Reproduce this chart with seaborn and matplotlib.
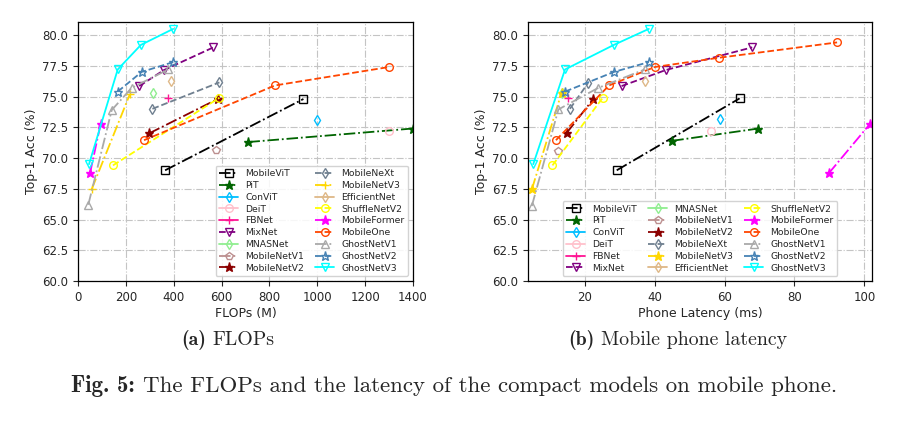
import matplotlib
matplotlib.use("Agg")
import matplotlib.pyplot as plt
import seaborn as sns

# ---------------- data ----------------
names = ["MobileViT", "PiT", "ConViT", "DeiT", "FBNet", "MixNet", "MNASNet",
         "MobileNetV1", "MobileNetV2", "MobileNeXt", "MobileNetV3", "EfficientNet",
         "ShuffleNetV2", "MobileFormer", "MobileOne", "GhostNetV1", "GhostNetV2",
         "GhostNetV3"]

# (a) FLOPs (M) vs Top-1 accuracy
mobilevit_flops = [364, 942];            mobilevit_acc_a = [69.0, 74.8]
pit_flops = [712, 1400];                 pit_acc_a = [71.3, 72.4]
convit_flops = [1000];                   convit_acc_a = [73.1]
deit_flops = [1300];                     deit_acc_a = [72.2]
fbnet_flops = [375];                     fbnet_acc_a = [74.9]
mixnet_flops = [256, 359, 566];          mixnet_acc_a = [75.85, 77.15, 79.0]
mnasnet_flops = [312];                   mnasnet_acc_a = [75.3]
mbv1_flops = [575];                      mbv1_acc_a = [70.65]
mbv2_flops = [297, 584];                 mbv2_acc_a = [72.0, 74.8]
mobilenext_flops = [311, 591];           mobilenext_acc_a = [74.0, 76.15]
mbv3_flops = [57, 217];                  mbv3_acc_a = [67.45, 75.2]
effnet_flops = [389];                    effnet_acc_a = [76.3]
shufflev2_flops = [146, 591];            shufflev2_acc_a = [69.4, 74.9]
mobileformer_flops = [50, 95];           mobileformer_acc_a = [68.75, 72.8]
mobileone_flops = [276, 823, 1300];      mobileone_acc_a = [71.45, 75.9, 77.4]
ghostv1_flops = [43, 141, 224, 377];     ghostv1_acc_a = [66.2, 73.9, 75.7, 77.2]
ghostv2_flops = [166, 266, 398];         ghostv2_acc_a = [75.4, 77.0, 77.8]
ghostv3_flops = [46, 166, 263, 398];     ghostv3_acc_a = [69.5, 77.2, 79.2, 80.5]

# (b) Phone latency (ms) vs Top-1 accuracy
mobilevit_lat = [29.1, 64.3];            mobilevit_acc_b = [69.0, 74.85]
pit_lat = [45.0, 69.7];                  pit_acc_b = [71.4, 72.4]
convit_lat = [58.6];                     convit_acc_b = [73.15]
deit_lat = [56.2];                       deit_acc_b = [72.2]
fbnet_lat = [15.2];                      fbnet_acc_b = [74.9]
mixnet_lat = [30.5, 43.1, 67.9];         mixnet_acc_b = [75.85, 77.15, 79.0]
mnasnet_lat = [13.5];                    mnasnet_acc_b = [75.3]
mbv1_lat = [12.4];                       mbv1_acc_b = [70.6]
mbv2_lat = [14.8, 22.4];                 mbv2_acc_b = [72.05, 74.8]
mobilenext_lat = [15.7, 20.9];           mobilenext_acc_b = [74.0, 76.1]
mbv3_lat = [4.8, 13.3];                  mbv3_acc_b = [67.45, 75.3]
effnet_lat = [37.3];                     effnet_acc_b = [76.25]
shufflev2_lat = [10.7, 25.1];            shufflev2_acc_b = [69.4, 74.9]
mobileformer_lat = [89.8, 101.7];        mobileformer_acc_b = [68.75, 72.8]
mobileone_lat = [11.7, 26.9, 40.0, 58.3, 92.2]
mobileone_acc_b = [71.45, 75.9, 77.4, 78.15, 79.4]
ghostv1_lat = [4.8, 12.4, 23.8, 37.1];   ghostv1_acc_b = [66.1, 73.95, 75.7, 77.2]
ghostv2_lat = [14.3, 28.3, 38.3];        ghostv2_acc_b = [75.4, 77.0, 77.8]
ghostv3_lat = [5.2, 14.3, 28.3, 38.3];   ghostv3_acc_b = [69.5, 77.2, 79.2, 80.5]

x_ticks_a = [0, 200, 400, 600, 800, 1000, 1200, 1400]
x_ticks_b = [20, 40, 60, 80, 100]
y_ticks = [60.0, 62.5, 65.0, 67.5, 70.0, 72.5, 75.0, 77.5, 80.0]

# ---------------- styles ----------------
colors = ["black", "darkgreen", "deepskyblue", "pink", "deeppink", "purple",
          "lightgreen", "rosybrown", "darkred", "slategray", "gold", "burlywood",
          "yellow", "magenta", "orangered", "darkgray", "steelblue", "cyan"]
markers_a = ["s", "*", "d", "o", "+", "v", "d", "p", "*", "d", "+", "d",
             "o", "*", "o", "^", "*", "v"]
markers_b = ["s", "*", "d", "o", "+", "v", "d", "p", "*", "d", "*", "d",
             "o", "*", "o", "^", "*", "v"]
linestyles = ["-.", "-.", "-", "-", "-", "--", "-", "-.", "-.", "--", "-.", "-",
              "--", "-.", "--", "-.", "--", "-"]
filled = [False, True, False, False, False, False, False, False, True, False,
          True, False, False, True, False, False, False, False]

data_a = [(mobilevit_flops, mobilevit_acc_a), (pit_flops, pit_acc_a),
          (convit_flops, convit_acc_a), (deit_flops, deit_acc_a),
          (fbnet_flops, fbnet_acc_a), (mixnet_flops, mixnet_acc_a),
          (mnasnet_flops, mnasnet_acc_a), (mbv1_flops, mbv1_acc_a),
          (mbv2_flops, mbv2_acc_a), (mobilenext_flops, mobilenext_acc_a),
          (mbv3_flops, mbv3_acc_a), (effnet_flops, effnet_acc_a),
          (shufflev2_flops, shufflev2_acc_a), (mobileformer_flops, mobileformer_acc_a),
          (mobileone_flops, mobileone_acc_a), (ghostv1_flops, ghostv1_acc_a),
          (ghostv2_flops, ghostv2_acc_a), (ghostv3_flops, ghostv3_acc_a)]
data_b = [(mobilevit_lat, mobilevit_acc_b), (pit_lat, pit_acc_b),
          (convit_lat, convit_acc_b), (deit_lat, deit_acc_b),
          (fbnet_lat, fbnet_acc_b), (mixnet_lat, mixnet_acc_b),
          (mnasnet_lat, mnasnet_acc_b), (mbv1_lat, mbv1_acc_b),
          (mbv2_lat, mbv2_acc_b), (mobilenext_lat, mobilenext_acc_b),
          (mbv3_lat, mbv3_acc_b), (effnet_lat, effnet_acc_b),
          (shufflev2_lat, shufflev2_acc_b), (mobileformer_lat, mobileformer_acc_b),
          (mobileone_lat, mobileone_acc_b), (ghostv1_lat, ghostv1_acc_b),
          (ghostv2_lat, ghostv2_acc_b), (ghostv3_lat, ghostv3_acc_b)]

sns.set_style("ticks")
plt.rcParams["font.family"] = ["DejaVu Sans"]

fig = plt.figure(figsize=(8.99, 4.24), dpi=100)
ax_a = fig.add_axes([78 / 899, 1 - 281 / 424, (413 - 78) / 899, (281 - 22) / 424])
ax_b = fig.add_axes([528 / 899, 1 - 281 / 424, (872 - 528) / 899, (281 - 22) / 424])


def draw(ax, data, markers):
    for i, (xs, ys) in enumerate(data):
        c = colors[i]
        sns.lineplot(x=xs, y=ys, ax=ax, color=c, marker=markers[i],
                     linestyle=linestyles[i], linewidth=1.3,
                     markersize=5.5 if markers[i] != "*" else 6.5,
                     markerfacecolor=c if filled[i] else "none",
                     markeredgecolor=c, markeredgewidth=1.0,
                     label=names[i], estimator=None, sort=False, legend=False)


draw(ax_a, data_a, markers_a)
draw(ax_b, data_b, markers_b)

for ax in (ax_a, ax_b):
    ax.set_ylim(60, 81.06)
    ax.set_yticks(y_ticks)
    ax.grid(True, linestyle="-.", color="#c4c4c4", linewidth=0.8)
    ax.set_axisbelow(True)
    ax.tick_params(labelsize=8.5, length=3.5, width=0.8, direction="out")
    ax.set_ylabel("Top-1 Acc (%)", fontsize=9, labelpad=3)
    for s in ax.spines.values():
        s.set_color("black")
        s.set_linewidth(0.9)

ax_a.set_xlim(0, 1400)
ax_a.set_xticks(x_ticks_a)
ax_a.set_xlabel("FLOPs (M)", fontsize=9, labelpad=2)
ax_b.set_xlim(3.7, 102.2)
ax_b.set_xticks(x_ticks_b)
ax_b.set_xlabel("Phone Latency (ms)", fontsize=9, labelpad=2)

leg_kw = dict(fontsize=6.7, frameon=True, fancybox=True, framealpha=0.85,
              edgecolor="#cccccc", borderpad=0.4, labelspacing=0.3,
              handlelength=2.0, handletextpad=0.8, columnspacing=1.2)
h, l = ax_a.get_legend_handles_labels()
ax_a.legend(h, l, ncol=2, loc="lower right", **leg_kw)
h, l = ax_b.get_legend_handles_labels()
ax_b.legend(h, l, ncol=3, loc="lower center", **leg_kw)

# captions: bold part + regular part, centred as a whole
renderer = fig.canvas.get_renderer()


def caption(cx, cy, bold, regular, size):
    tb = fig.text(0, cy, bold, family="cmb10", fontsize=size, va="center")
    tr = fig.text(0, cy, regular, family="cmr10", fontsize=size, va="center")
    wb = tb.get_window_extent(renderer).width
    wr = tr.get_window_extent(renderer).width
    gap = size * 0.45
    total = wb + gap + wr
    x0 = cx - total / 2
    tb.set_x(x0 / 899)
    tr.set_x((x0 + wb + gap) / 899)


caption(228, 1 - 340 / 424, "(a)", "FLOPs", 14.3)
caption(678, 1 - 340 / 424, "(b)", "Mobile phone latency", 14.3)
caption(454, 1 - 386 / 424, "Fig. 5:",
        "The FLOPs and the latency of the compact models on mobile phone.", 16.5)

fig.savefig("out.png", dpi=100)
